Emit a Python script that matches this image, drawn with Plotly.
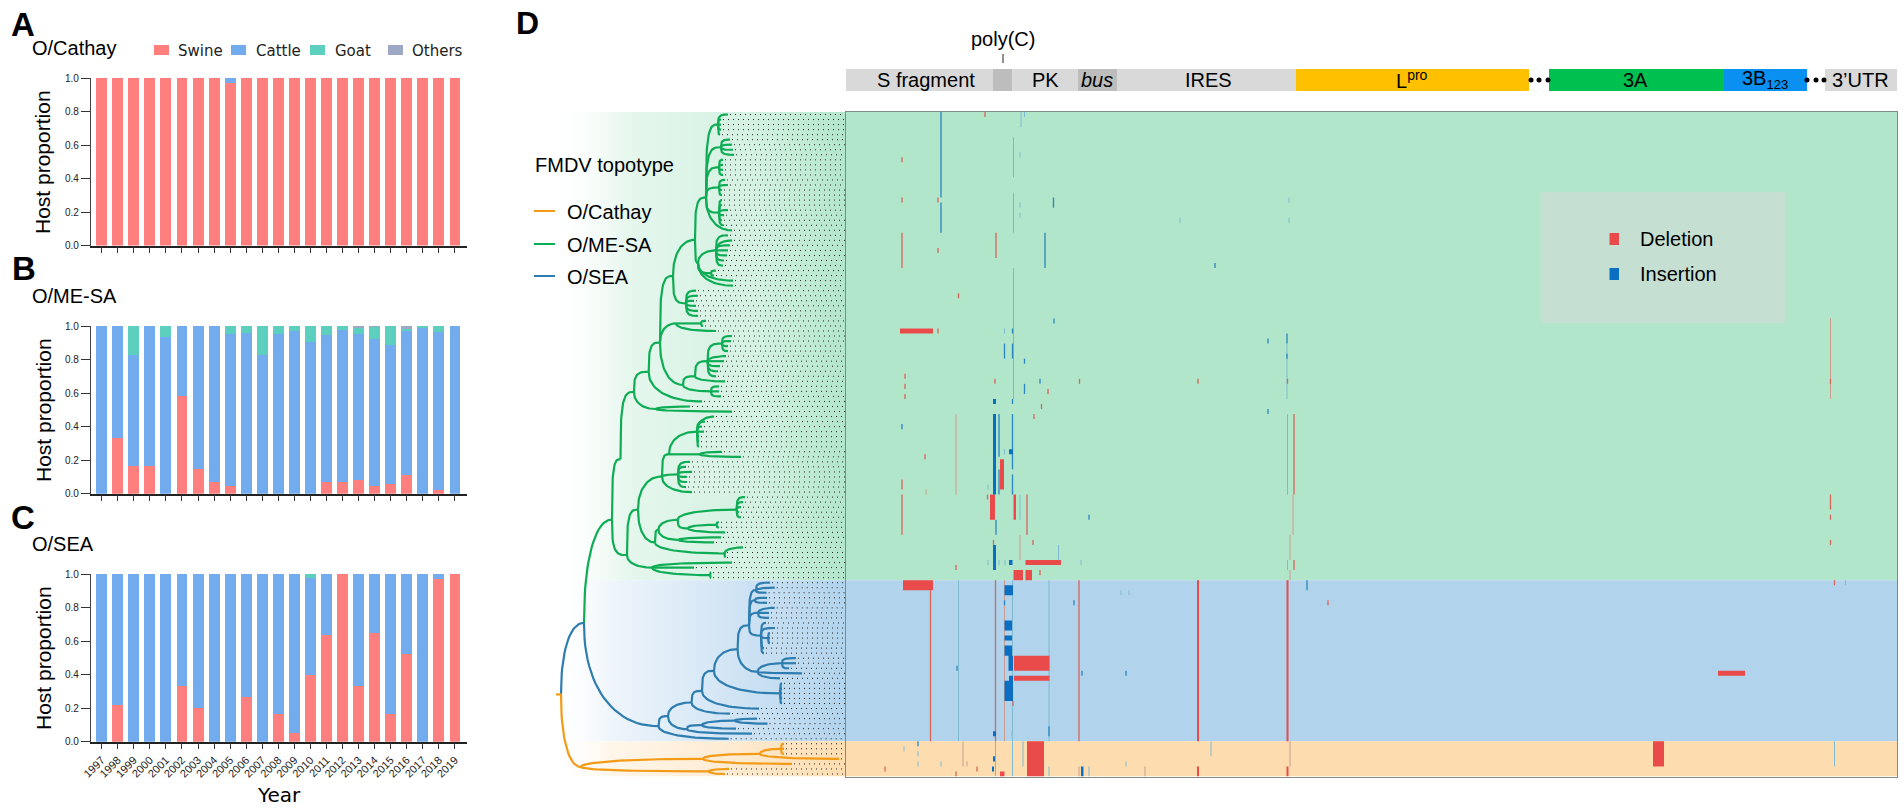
import math
import plotly.graph_objects as go

# Panels A-C: host proportion per year
years = [str(y) for y in range(1997, 2020)]
hosts = ["Swine", "Cattle", "Goat", "Others"]
host_colors = ["#FF7F7F", "#72ACEF", "#5CCFBF", "#9DA8C4"]

cathay_swine = [1, 1, 1, 1, 1, 1, 1, 1, .97, 1, 1, 1, 1, 1, 1, 1, 1, 1, 1, 1, 1, 1, 1]
cathay_cattle = [0, 0, 0, 0, 0, 0, 0, 0, .03, 0, 0, 0, 0, 0, 0, 0, 0, 0, 0, 0, 0, 0, 0]
cathay_goat = [0] * 23
cathay_others = [0] * 23

mesa_swine = [0, .33, .165, .165, 0, .58, .145, .07, .045, 0, 0, 0, 0, 0, .07, .07, .08, .045, .06, .11, 0, .02, 0]
mesa_cattle = [1, .67, .665, .835, .935, .42, .855, .93, .905, .96, .825, .955, .97, .905, .875, .905, .87, .88, .825, .86, .99, .945, 1]
mesa_goat = [0, 0, .17, 0, .065, 0, 0, 0, .05, .04, .175, .045, .03, .095, .055, .025, .04, .07, .115, .015, .01, .035, 0]
mesa_others = [0, 0, 0, 0, 0, 0, 0, 0, 0, 0, 0, 0, 0, 0, 0, 0, .01, .005, 0, .015, 0, 0, 0]

sea_swine = [0, .22, 0, 0, 0, .33, .2, 0, 0, .265, 0, .165, .05, .395, .635, 1, .33, .65, .165, .525, 0, .97, 1]
sea_cattle = [1, .78, 1, 1, 1, .67, .8, 1, 1, .735, 1, .835, .95, .58, .365, 0, .67, .35, .835, .475, 1, .03, 0]
sea_goat = [0, 0, 0, 0, 0, 0, 0, 0, 0, 0, 0, 0, 0, .025, 0, 0, 0, 0, 0, 0, 0, 0, 0]
sea_others = [0] * 23

# Panel D: genome map (columns of the alignment)
gene_start = [0, 147, 166.5, 232, 271, 450, 703, 878, 979]
gene_end = [147, 166.5, 232, 271, 450, 683, 878, 961, 1051]
gene_colors = ["#D9D9D9", "#BDBDBD", "#D9D9D9", "#BDBDBD", "#D9D9D9", "#FFC000", "#00C050", "#0A90F0", "#D9D9D9"]
gene_labels = ["S fragment", "", "PK", "<i>bus</i>", "IRES", "L<sup>pro</sup>", "3A",
               "3B<sub><span style=\"font-size:13px\">123</span></sub>", "3’UTR"]
gene_dots = [685, 693, 702, 961, 970, 978]

# Panel D: sequence bands (row limits) and colours
band_rows = [0, 93, 125, 132]
band_colors = ["#B2E6CA", "#B1D3EC", "#FDDDB0"]

# Panel D: events as (col0, col1, row0, row1)
block_del = [(54, 87, 43, 44), (57, 87, 93, 95), (154, 158, 69, 75), (144, 149, 76, 81), (167.5, 170, 76, 81),
             (179.5, 215, 89, 90), (167.5, 177, 91, 93), (179.5, 186, 91, 93), (168, 203.5, 108, 111),
             (168, 203.5, 112, 113), (872, 899, 111, 112), (807, 818, 125, 130), (154, 158.5, 131, 132),
             (181, 198, 125, 132), (351, 353, 93, 125), (440.5, 442.5, 93, 125), (440.5, 442.5, 130, 132),
             (351, 353, 130, 132)]
block_ins = [(147, 150, 60, 76), (147, 150, 57, 58), (147, 150, 86, 91), (163, 166.5, 67, 68), (163, 166.5, 89, 90),
             (158.5, 167, 94, 96), (158.5, 166, 101, 103), (158.5, 166, 104, 105), (158.5, 166, 106, 108),
             (162.5, 167, 108, 111), (163, 167, 112, 113), (158.5, 167, 113, 117), (147, 150, 123, 124),
             (147, 149, 128, 129), (146, 148, 130, 131), (235, 237.5, 130, 132)]

# thin events as (col, row0, row1)
thin_del = [(56, 9, 10), (56, 17, 18), (92, 17, 18), (92, 27, 28), (139, 0, 1), (56, 24, 31), (150, 24, 29),
            (112.5, 36, 37), (92, 43, 44), (59, 52, 53), (59, 54, 55), (59, 56, 57), (149, 53, 54), (233.5, 53, 54),
            (352, 53, 54), (202, 55, 56), (195.5, 58, 59), (188, 60, 61), (79, 68, 69), (56, 73, 75), (141.5, 76, 77),
            (181, 76, 84), (56, 76, 84), (187, 85, 86), (147.5, 85, 86), (110, 90, 91), (194, 91, 92),
            (441.5, 53, 54), (984.5, 53, 54), (984.5, 76, 79), (984.5, 80, 81), (984.5, 85, 86), (448, 60, 76),
            (448, 89, 91), (84.5, 95, 125), (149.5, 93, 125), (233, 93, 125), (482, 97, 98), (167, 117, 118),
            (988.5, 93, 94), (39, 130, 131), (131, 130, 131), (110, 131, 132)]
thin_ins = [(95, 0, 17), (95, 18, 24), (207.5, 17, 19), (199, 24, 31), (208, 41, 42), (166.5, 43, 44), (158.5, 46, 49),
            (166.5, 46, 49), (178.5, 49, 50), (178.5, 54, 56), (194, 53, 54), (166.5, 57, 58), (153, 60, 68.5),
            (153, 71, 76), (166.5, 60, 71), (166.5, 72, 76), (56, 62, 63), (150, 81, 84), (243, 80, 81), (422, 45, 46),
            (441, 44, 46), (441, 48, 49), (422, 59, 60), (369, 30, 31), (461, 93, 95), (158.5, 97, 98), (228, 97, 98),
            (111, 110, 111), (236, 111, 112), (280, 111, 112), (203, 122, 124), (72, 125, 126)]
faint_del = [(167.5, 5, 13), (167.5, 16, 24), (167.5, 31, 57), (110, 60, 76), (80, 75, 76), (441.5, 60, 76),
             (447, 76, 84), (444, 84, 89), (444, 91, 93), (984.5, 41, 57), (158.5, 93, 125), (117, 125, 130),
             (121, 129, 130), (444, 125, 130), (149.5, 125, 132), (233, 130, 132), (299, 130, 132), (174, 84, 89)]
faint_ins = [(175, 0, 3), (178.5, 0, 1), (174, 8, 9), (174, 18, 19), (174, 20, 21), (334, 21, 22), (443, 17, 18),
             (443, 21, 22), (158.5, 67, 68), (158.5, 43, 44), (142, 74, 75), (174, 76, 81), (212.5, 86, 89),
             (441, 46, 57), (441.5, 89, 91), (235, 89, 90), (112.5, 93, 125), (203, 93, 125), (166.5, 93, 132),
             (275, 95, 96), (283, 95, 96), (999.5, 93, 94), (166, 123, 124), (72, 127, 128), (58, 126, 127),
             (72, 129, 130), (95, 129, 130), (177, 125, 130), (365, 125, 128), (988.5, 125, 130), (203, 130, 132),
             (243, 130, 132), (280, 129, 130), (142, 89, 90), (153, 89, 90), (159, 89, 90)]

# Panel D: tree as (node, parent, depth, row); node None is a tip
orange_tree = [("stem", None, 0, 115.7), ("root", "stem", 5, 115.7), ("Oa", "root", 25, 130.1),
               ("Ob", "Oa", 147, 128.5), ("Oc", "Oa", 153, 131), (None, "Ob", 236, 129.5), ("Od", "Ob", 204, 127.5),
               ("Oe", "Od", 225, 126.5), (None, "Od", 283, 128.5), (None, "Oe", 228, 125.5), (None, "Oe", 228, 126.5),
               (None, "Oe", 228, 127.5), (None, "Oc", 173, 130.5), (None, "Oc", 169, 131.5)]
blue_tree = [("Bs", "root", 28, 101.5), ("B0", "Bs", 102.6, 122), ("B1", "B0", 112, 120), (None, "B0", 172.7, 124.5),
             ("B2", "B1", 135.6, 117.3), ("B3", "B1", 131, 122.6), ("B4", "B3", 146, 121.8), (None, "B3", 196, 123.5),
             ("B5", "B4", 179, 120.9), (None, "B4", 180, 122.5), (None, "B5", 201, 120.5), (None, "B5", 211.5, 121.5),
             ("B6", "B2", 146, 115), (None, "B2", 174, 119.5), ("B7", "B6", 158, 111), (None, "B6", 203, 118.5),
             ("B8", "B7", 181.6, 106.7), ("B9", "B7", 224, 115.5), (None, "B9", 226, 113.5), (None, "B9", 226, 114.5),
             (None, "B9", 226, 115.5), (None, "B9", 226, 116.5), (None, "B9", 226, 117.5), ("B10", "B8", 193, 102),
             ("B11", "B8", 201.7, 111.2), ("B12", "B11", 226, 109.5), (None, "B11", 246, 111.5),
             (None, "B11", 224, 112.5), (None, "B12", 240, 108.5), (None, "B12", 240, 109.5), (None, "B12", 233, 110.5),
             ("B13", "B10", 200, 95), (None, "B13", 214, 93.5), (None, "B13", 218.7, 94.5), (None, "B13", 210.6, 95.5),
             ("B14", "B10", 199, 97), (None, "B14", 211, 96.5), (None, "B14", 211, 97.5), ("B15", "B10", 202, 99.5),
             (None, "B15", 218.7, 98.5), (None, "B15", 213, 99.5), (None, "B15", 213, 100.5), ("B16", "B10", 205, 104),
             (None, "B16", 210, 101.5), (None, "B16", 219, 102.5), ("B17", "B16", 212, 104.5),
             (None, "B17", 214, 103.5), (None, "B17", 214, 104.5), (None, "B17", 214, 105.5),
             (None, "B16", 208, 106.5), (None, "B16", 208, 107.5)]
green_tree = [("G1", "Bs", 56, 81), ("G2", "G1", 64.5, 69), ("H", "G1", 71, 88), ("G4", "H", 82, 79),
              ("G1L", "H", 96, 90.5), (None, "G1L", 176, 89.5), (None, "G1L", 138, 90.5), ("N7", "G1L", 154, 92),
              (None, "N7", 155, 91.5), (None, "N7", 155, 92.5), ("G5", "G4", 106, 72.4), ("G6", "G4", 99, 85.5),
              ("G5a", "G5", 113, 68), ("G5b", "G5", 122, 72), (None, "G5", 136, 75.5), ("T1", "G5a", 141, 63.5),
              ("Tn", "G5a", 144, 68), (None, "Tn", 166, 67.5), (None, "Tn", 185, 68.5), (None, "T1", 158, 60.5),
              (None, "T1", 149, 61.5), (None, "T1", 146, 62.5), (None, "T1", 148, 63.5), (None, "T1", 143, 64.5),
              (None, "T1", 143, 65.5), (None, "T1", 143, 66.5), (None, "G5b", 134, 69.5), (None, "G5b", 130, 70.5),
              (None, "G5b", 136, 71.5), (None, "G5b", 131, 72.5), (None, "G5b", 131, 73.5), (None, "G5b", 130, 74.5),
              ("N1", "G6", 102.5, 83), ("N6", "G6", 168.5, 87.7), ("N2", "N1", 121.7, 81), ("N3", "N1", 122.6, 85),
              ("N4", "N2", 180.6, 79), ("N5", "N2", 132, 82.7), (None, "N4", 189, 76.5), (None, "N4", 187, 77.5),
              (None, "N4", 185, 78.5), (None, "N4", 183, 79.5), (None, "N4", 185, 80.5), ("N5a", "N5", 160.5, 82),
              (None, "N5a", 163, 81.5), (None, "N5a", 163, 82.5), (None, "N5", 169, 83.5), (None, "N3", 165, 84.5),
              (None, "N3", 158, 85.5), (None, "N6", 187, 86.5), (None, "N6", 169, 87.5), (None, "N6", 169, 88.5),
              ("G3", "G2", 78, 55.6), ("P1", "G3", 92.7, 51.6), ("G3b", "G3", 100, 59), (None, "G3b", 134, 58.5),
              (None, "G3b", 176, 59.5), ("P2", "P1", 104, 45.8), (None, "P1", 146, 57.5), ("Q", "P2", 117, 32.6),
              ("M", "P2", 120, 42), ("P3", "P2", 127, 54.2), ("Ma", "M", 145, 42), (None, "Ma", 150, 41.5),
              (None, "Ma", 147, 42.5), (None, "M", 160, 43.5), ("P3a", "P3", 139, 52.5), ("P3b", "P3", 155, 55.5),
              ("L1", "P3a", 151.6, 49.5), (None, "P3a", 169, 53.5), ("L2", "L1", 166, 46), (None, "L1", 170, 48.5),
              (None, "L1", 168, 49.5), (None, "L1", 164, 50.5), (None, "L1", 162, 51.5), (None, "L1", 160, 52.5),
              (None, "L2", 176, 44.5), (None, "L2", 175, 45.5), (None, "L2", 172, 46.5), (None, "L2", 172, 47.5),
              (None, "P3b", 163, 54.5), (None, "P3b", 163, 55.5), (None, "P3b", 165, 56.5), ("S", "Q", 139, 25.4),
              ("R", "Q", 130, 38), (None, "R", 140, 35.5), (None, "R", 142, 36.5), (None, "R", 138, 37.5),
              (None, "R", 140, 38.5), (None, "R", 142, 39.5), (None, "R", 142, 40.5), ("U", "S", 150, 17),
              ("V", "S", 142, 30), ("C1", "U", 162, 2.5), ("C2", "U", 165, 7), ("C3", "U", 163, 11),
              ("C4", "U", 163, 15), ("C5", "U", 163, 20), (None, "U", 176, 23.5), (None, "C1", 172, .5),
              (None, "C1", 165, 1.5), (None, "C1", 165, 2.5), (None, "C1", 165, 3.5), (None, "C1", 164, 4.5),
              (None, "C2", 174, 5.5), (None, "C2", 176, 6.5), (None, "C2", 177, 7.5), (None, "C2", 178, 8.5),
              (None, "C3", 167, 9.5), (None, "C3", 167, 10.5), (None, "C3", 167, 11.5), (None, "C3", 167, 12.5),
              (None, "C4", 169, 13.5), (None, "C4", 172, 14.5), (None, "C4", 166, 15.5), (None, "C4", 166, 16.5),
              (None, "C5", 166, 17.5), (None, "C5", 166, 18.5), (None, "C5", 172, 19.5), (None, "C5", 168, 20.5),
              (None, "C5", 166, 21.5), (None, "C5", 168, 22.5), ("Wn", "V", 160, 27.5), ("Xn", "V", 155, 32),
              (None, "V", 177, 33.5), (None, "V", 177, 34.5), (None, "Wn", 172, 24.5), (None, "Wn", 176, 25.5),
              (None, "Wn", 174, 26.5), (None, "Wn", 172, 27.5), (None, "Wn", 171, 28.5), (None, "Wn", 168, 29.5),
              (None, "Wn", 167, 30.5), (None, "Xn", 160, 31.5), (None, "Xn", 158, 32.5)]

W, H = 1904, 808
TEXT = "Liberation Sans"
TREE_MAX = 290
N_COLS = 1051


def fx(px):
    return px / W


def fy(py):
    return 1 - py / H


fig = go.Figure()

# bar panels
panels = [
    ("x", "y", (78, 245.5), [cathay_swine, cathay_cattle, cathay_goat, cathay_others]),
    ("x2", "y2", (326, 493.7), [mesa_swine, mesa_cattle, mesa_goat, mesa_others]),
    ("x3", "y3", (574, 741.7), [sea_swine, sea_cattle, sea_goat, sea_others]),
]
for xa, ya, (top, bottom), series in panels:
    for name, color, vals in zip(hosts, host_colors, series):
        fig.add_trace(go.Bar(x=years, y=vals, name=name, marker=dict(color=color, line=dict(width=0)),
                             width=0.68, xaxis=xa, yaxis=ya, showlegend=False))
    xkey = "xaxis" + xa[1:]
    ykey = "yaxis" + ya[1:]
    fig.layout[xkey] = dict(domain=[fx(91), fx(467)], anchor=ya, type="category", range=[-0.666, 22.75],
                            showline=True, linecolor="#222", linewidth=1.5, ticks="outside", ticklen=6,
                            tickwidth=1, tickcolor="#333", showgrid=False, zeroline=False,
                            tickangle=-45, tickfont=dict(family=TEXT, size=11, color="#222"),
                            showticklabels=xa == "x3", tickmode="array", tickvals=years)
    fig.layout[ykey] = dict(domain=[fy(bottom), fy(top)], anchor=xa, range=[0, 1], tickvals=[0, .2, .4, .6, .8, 1],
                            tickformat=".1f", showline=True, linecolor="#444", linewidth=1.2, ticks="outside",
                            ticklen=9, tickwidth=1, tickcolor="#333", showgrid=False, zeroline=False,
                            tickfont=dict(family=TEXT, size=10, color="#222"))


# tree
def gather(tree_lists):
    pos = {}
    for tree in tree_lists:
        for node, parent, depth, row in tree:
            if node is not None:
                pos[node] = (depth, row)
    return pos


node_pos = gather([orange_tree, blue_tree, green_tree])


def branch_xy(tree):
    # elbow from the parent: leaves it upright, arrives level; short branches get a tighter corner
    xs, ys = [], []
    for node, parent, depth, row in tree:
        if parent is None:
            continue
        d0, r0 = node_pos[parent]
        power = 2 / (3.5 if depth - d0 < 16 else 2.2)
        for k in range(25):
            a = k / 24 * math.pi / 2
            xs.append(d0 + (depth - d0) * (1 - math.cos(a) ** power))
            ys.append(r0 + (row - r0) * math.sin(a) ** power)
        xs.append(None)
        ys.append(None)
    return xs, ys


# band gradients behind the tree
gradient_stops = [
    [[0, "rgba(255,255,255,0)"], [.25, "#E6F7EE"], [.7, "#D3F1E1"], [1, band_colors[0]]],
    [[0, "rgba(255,255,255,0)"], [.2, "#EEF5FB"], [.55, "#D6E7F6"], [1, band_colors[1]]],
    [[0, "rgba(255,255,255,0)"], [.2, "#FFF6EA"], [.55, "#FEEDD6"], [1, band_colors[2]]],
]
for i, stops in enumerate(gradient_stops):
    r0, r1 = band_rows[i], band_rows[i + 1]
    fig.add_trace(go.Scatter(x=[-3, TREE_MAX, TREE_MAX, -3, -3], y=[r0, r0, r1, r1, r0], mode="lines",
                             line=dict(width=0), fill="toself", showlegend=False, hoverinfo="skip",
                             fillgradient=dict(type="horizontal", colorscale=stops),
                             xaxis="x4", yaxis="y4"))

# dotted lines from each tip to the alignment
dot_x, dot_y = [], []
for tree in [orange_tree, blue_tree, green_tree]:
    for node, parent, depth, row in tree:
        if node is None:
            dot_x += [depth + 2, TREE_MAX, None]
            dot_y += [row, row, None]
fig.add_trace(go.Scatter(x=dot_x, y=dot_y, mode="lines", line=dict(color="#222", width=1, dash="1px,4px"),
                         showlegend=False, hoverinfo="skip", xaxis="x4", yaxis="y4"))

for tree, color in [(green_tree, "#0EAD55"), (blue_tree, "#2E7DB0"), (orange_tree, "#F39A17")]:
    bx, by = branch_xy(tree)
    fig.add_trace(go.Scatter(x=bx, y=by, mode="lines", line=dict(color=color, width=2.2), showlegend=False,
                             hoverinfo="skip", xaxis="x4", yaxis="y4"))


# alignment events
def block_xy(blocks):
    xs, ys = [], []
    for c0, c1, r0, r1 in blocks:
        xs += [c0, c1, c1, c0, c0, None]
        ys += [r0, r0, r1, r1, r0, None]
    return xs, ys


def thin_xy(lines):
    xs, ys = [], []
    for c, r0, r1 in lines:
        xs += [c, c, None]
        ys += [r0, r1, None]
    return xs, ys


for lines, color, w in [(faint_del, "#CC9C90", 1), (faint_ins, "#7DBBD0", 1), (thin_del, "#D8655C", 1.3),
                        (thin_ins, "#2A86C0", 1.3)]:
    lx, ly = thin_xy(lines)
    fig.add_trace(go.Scatter(x=lx, y=ly, mode="lines", line=dict(color=color, width=w), showlegend=False,
                             hoverinfo="skip", xaxis="x5", yaxis="y5"))
for blocks, color in [(block_del, "#E94B4B"), (block_ins, "#0A6FC2")]:
    rx, ry = block_xy(blocks)
    fig.add_trace(go.Scatter(x=rx, y=ry, mode="lines", line=dict(width=0), fill="toself", fillcolor=color,
                             showlegend=False, hoverinfo="skip", xaxis="x5", yaxis="y5"))

fig.add_trace(go.Scatter(x=gene_dots, y=[.5] * len(gene_dots), mode="markers",
                         marker=dict(color="black", size=5), showlegend=False, hoverinfo="skip",
                         xaxis="x5", yaxis="y6"))

hidden = dict(showgrid=False, zeroline=False, showticklabels=False, ticks="", showline=False)
fig.layout.xaxis4 = dict(domain=[fx(530), fx(846)], range=[-26, TREE_MAX], anchor="y4", **hidden)
fig.layout.yaxis4 = dict(domain=[fy(776.5), fy(112)], range=[132, 0], anchor="x4", **hidden)
fig.layout.xaxis5 = dict(domain=[fx(846), fx(1897)], range=[0, N_COLS], anchor="y5", showgrid=False, zeroline=False,
                         showticklabels=False, ticks="", showline=True, mirror=True, linecolor="#7F8C85", linewidth=1)
fig.layout.yaxis5 = dict(domain=[fy(776.5), fy(112)], range=[132, 0], anchor="x5", showgrid=False, zeroline=False,
                         showticklabels=False, ticks="", showline=True, mirror=True, linecolor="#7F8C85", linewidth=1)
fig.layout.yaxis6 = dict(domain=[fy(91), fy(69)], range=[0, 1], anchor="x5", **hidden)

shapes = []
for i, color in enumerate(band_colors):
    shapes.append(dict(type="rect", xref="x5", yref="y5", x0=0, x1=N_COLS, y0=band_rows[i], y1=band_rows[i + 1],
                       fillcolor=color, line=dict(width=0), layer="below"))
for start, end, color in zip(gene_start, gene_end, gene_colors):
    shapes.append(dict(type="rect", xref="x5", yref="y6", x0=start, x1=end, y0=0, y1=1, fillcolor=color,
                       line=dict(width=0), layer="below"))


def paper_rect(x0, x1, y0, y1, color):
    return dict(type="rect", xref="paper", yref="paper", x0=fx(x0), x1=fx(x1), y0=fy(y1), y1=fy(y0),
                fillcolor=color, line=dict(width=0))


# host legend
legend_left = [154, 231, 310, 388]
for left, color in zip(legend_left, host_colors):
    shapes.append(paper_rect(left, left + 15, 45, 55, color))
# event legend
shapes.append(paper_rect(1541, 1785, 192, 323, "#C5DFD2"))
shapes.append(paper_rect(1609.5, 1619, 233, 245, "#E94B4B"))
shapes.append(paper_rect(1609.5, 1619, 268, 280, "#0A6FC2"))
# topotype legend and poly(C) tick
for y, color in [(211, "#F39A17"), (244, "#0EAD55"), (276, "#2E7DB0")]:
    shapes.append(dict(type="line", xref="paper", yref="paper", x0=fx(534), x1=fx(555), y0=fy(y), y1=fy(y),
                       line=dict(color=color, width=2)))
shapes.append(dict(type="line", xref="paper", yref="paper", x0=fx(1003), x1=fx(1003), y0=fy(54), y1=fy(63),
                   line=dict(color="#222", width=1)))

notes = []


def note(text, x, y, size, anchor="left", bold=False, family=TEXT, angle=0, color="black"):
    if anchor == "left":
        x -= 1.5
    notes.append(dict(text=text, xref="paper", yref="paper", x=fx(x), y=fy(y), xanchor=anchor, yanchor="middle",
                      showarrow=False, textangle=angle,
                      font=dict(family=family, size=size, color=color, weight="bold" if bold else "normal")))


note("A", 10, 24, 33, bold=True)
note("B", 11, 268, 33, bold=True)
note("C", 10, 517, 33, bold=True)
note("D", 515, 23, 32, bold=True)
note("O/Cathay", 31, 48, 20)
note("O/ME-SA", 31, 296, 20)
note("O/SEA", 31, 544, 20)
for cy in [162, 410, 658]:
    note("Host proportion", 43, cy, 21, anchor="center", angle=-90)
note("Year", 279, 795, 20, anchor="center", family="DejaVu Sans")
for name, lx in zip(hosts, [177, 255, 334, 411]):
    note(name, lx, 50.5, 15, family="DejaVu Sans", color="#222")
note("FMDV topotype", 534, 164.5, 20)
note("O/Cathay", 566, 212, 20)
note("O/ME-SA", 566, 245, 20)
note("O/SEA", 566, 277, 20)
note("poly(C)", 1003, 39, 20, anchor="center")
note("Deletion", 1639, 239, 20)
note("Insertion", 1639, 274, 20)
gene_centers = [926, 0, 1045, 1097, 1208, 1412, 1635, 1765, 1860]
for label, cx in zip(gene_labels, gene_centers):
    if label:
        note(label, cx, 80, 20, anchor="center")

fig.update_layout(width=W, height=H, margin=dict(l=0, r=0, t=0, b=0), barmode="stack", showlegend=False,
                  template="none", paper_bgcolor="white", plot_bgcolor="white", shapes=shapes, annotations=notes,
                  font=dict(family=TEXT))

fig.write_html("out.html", config={"displayModeBar": False}, post_script="document.body.style.margin='0';")
